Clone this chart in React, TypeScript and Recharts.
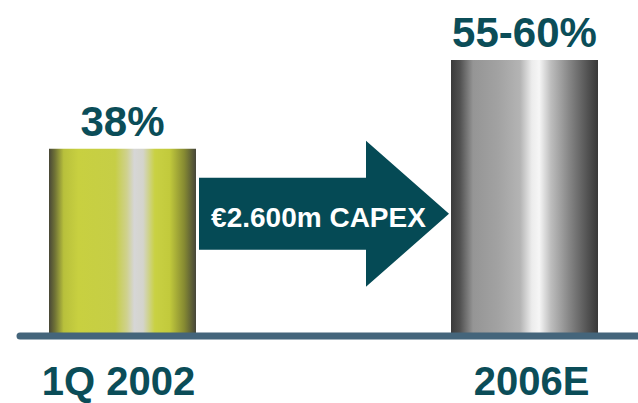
import React from "react";
import {
  BarChart,
  Bar,
  XAxis,
  YAxis,
  Cell,
  LabelList,
  ReferenceDot,
  ReferenceLine,
} from "recharts";

const FONT = "'Liberation Sans', Arial, sans-serif";
const TEXT_COLOR = "#0b4d58";
const ARROW_COLOR = "#054a55";
const BASE_COLOR = "#44657b";

// categories: the middle slot holds the CAPEX arrow
const periods = ["1Q 2002", "capex", "2006E"];
const shareValues = [38, null, 56];
const shareLabels = ["38%", "", "55-60%"];
const capexText = "€2.600m CAPEX";
const ARROW_LEVEL = 24.8;

const chartData = periods.map((p, i) => ({
  period: p,
  share: shareValues[i],
  label: shareLabels[i],
}));

const gradientIds = ["barYellow", "", "barSilver"];
const tickNudge = [-4, 0, 7];

const ArrowShape = (props: { cx?: number; cy?: number }) => {
  const { cx, cy } = props;
  if (cx === undefined || cy === undefined) return null;
  const pts = [
    [cx - 124.5, cy - 36],
    [cx + 42.5, cy - 36],
    [cx + 42.5, cy - 73],
    [cx + 125.5, cy],
    [cx + 42.5, cy + 73],
    [cx + 42.5, cy + 36],
    [cx - 124.5, cy + 36],
  ]
    .map((p) => p.join(","))
    .join(" ");
  return (
    <g>
      <polygon points={pts} fill={ARROW_COLOR} />
      <text
        x={cx - 5}
        y={cy + 13}
        textAnchor="middle"
        fill="#ffffff"
        fontSize={28}
        fontWeight={700}
        fontFamily={FONT}
      >
        {capexText}
      </text>
    </g>
  );
};

const PeriodTick = (props: {
  x?: number;
  y?: number;
  index?: number;
  payload?: { value: string };
}) => {
  const { x = 0, y = 0, index = 0, payload } = props;
  if (!payload || payload.value === "capex") return null;
  return (
    <text
      x={x + tickNudge[index]}
      y={y}
      dy={28}
      textAnchor="middle"
      fill={TEXT_COLOR}
      fontSize={40}
      fontWeight={700}
      fontFamily={FONT}
    >
      {payload.value}
    </text>
  );
};

export default function App() {
  return (
    <div
      style={{
        position: "absolute",
        left: 0,
        top: 0,
        width: 638,
        height: 403,
        background: "#ffffff",
      }}
    >
      <BarChart
        width={638}
        height={403}
        data={chartData}
        margin={{ top: 60, right: 0, bottom: 0, left: 20 }}
        barCategoryGap={0}
      >
        <defs>
          <linearGradient id="barYellow" x1="0" y1="0" x2="1" y2="0">
            <stop offset="0%" stopColor="#484737" />
            <stop offset="4%" stopColor="#6f7236" />
            <stop offset="10%" stopColor="#b8c03c" />
            <stop offset="20%" stopColor="#c8d040" />
            <stop offset="45%" stopColor="#c6ce46" />
            <stop offset="53%" stopColor="#cfd18e" />
            <stop offset="58%" stopColor="#d6d6d6" />
            <stop offset="64%" stopColor="#d4d4cc" />
            <stop offset="72%" stopColor="#c9d143" />
            <stop offset="82%" stopColor="#c2ca3c" />
            <stop offset="92%" stopColor="#868a32" />
            <stop offset="100%" stopColor="#46463a" />
          </linearGradient>
          <linearGradient id="barSilver" x1="0" y1="0" x2="1" y2="0">
            <stop offset="0%" stopColor="#3a3a3a" />
            <stop offset="6%" stopColor="#505050" />
            <stop offset="15%" stopColor="#959595" />
            <stop offset="32%" stopColor="#a2a2a2" />
            <stop offset="47%" stopColor="#b4b4b4" />
            <stop offset="55%" stopColor="#ececec" />
            <stop offset="60%" stopColor="#f6f6f6" />
            <stop offset="68%" stopColor="#bdbdbd" />
            <stop offset="80%" stopColor="#888888" />
            <stop offset="93%" stopColor="#525252" />
            <stop offset="100%" stopColor="#383838" />
          </linearGradient>
        </defs>
        <XAxis
          dataKey="period"
          axisLine={false}
          tickLine={false}
          tickSize={0}
          tickMargin={31}
          height={67}
          padding={{ left: 2, right: 13 }}
          interval={0}
          tick={<PeriodTick />}
        />
        <YAxis hide domain={[0, 56]} />
        <Bar dataKey="share" barSize={147} isAnimationActive={false}>
          {chartData.map((d, i) => (
            <Cell key={d.period} fill={`url(#${gradientIds[i] || "none"})`} />
          ))}
          <LabelList
            dataKey="label"
            position="top"
            offset={13}
            fill={TEXT_COLOR}
            fontSize={42}
            fontWeight={700}
            fontFamily={FONT}
          />
        </Bar>
        <ReferenceLine
          y={0}
          stroke={BASE_COLOR}
          strokeWidth={7}
          strokeLinecap="round"
          ifOverflow="visible"
        />
        <ReferenceDot
          x="capex"
          y={ARROW_LEVEL}
          ifOverflow="visible"
          shape={ArrowShape}
        />
      </BarChart>
    </div>
  );
}
